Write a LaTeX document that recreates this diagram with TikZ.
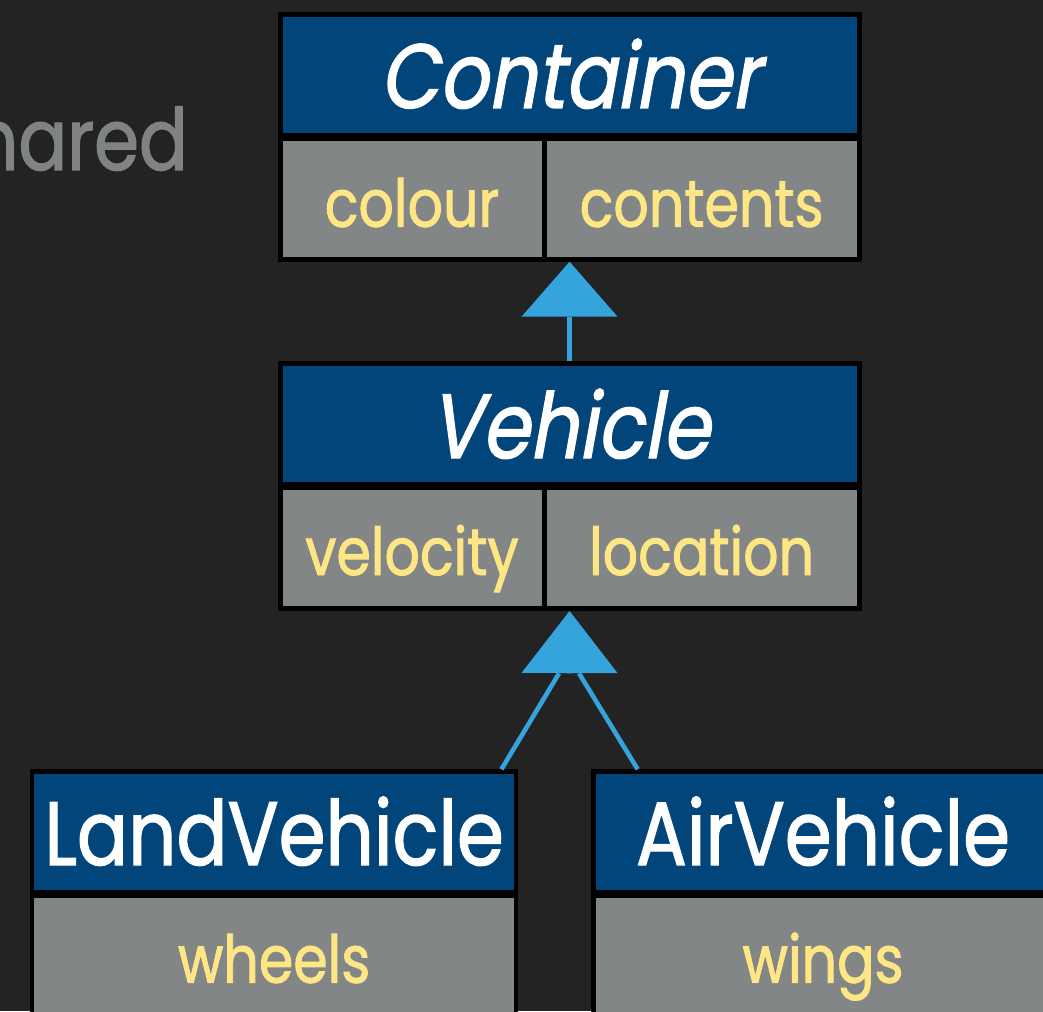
\documentclass[tikz,border=0pt]{standalone}
\usepackage{fontspec}
\setmainfont{Poppins}[FakeStretch=0.84,FakeBold=1.4]
\newfontfamily\slantfont{Poppins}[FakeStretch=0.84,FakeSlant=0.18,FakeBold=1.4]
\usetikzlibrary{arrows.meta}
\definecolor{bgc}{HTML}{232323}
\definecolor{headblue}{HTML}{02457A}
\definecolor{cellgray}{HTML}{838686}
\definecolor{attryellow}{HTML}{FFE685}
\definecolor{arrowblue}{HTML}{35A4DC}
\definecolor{fadegray}{HTML}{7F8383}
\tikzset{
  box/.style={anchor=north west, inner sep=0pt, outer sep=0pt, draw=none},
  outerbox/.style={box, fill=black},
  headcell/.style={box, fill=headblue},
  attrcell/.style={box, fill=cellgray},
  titletext/.style={anchor=base, inner sep=0pt, text=white, font=\slantfont\fontsize{91}{96}\selectfont},
  nametext/.style={anchor=base, inner sep=0pt, text=white, font=\fontsize{90}{96}\selectfont},
  attrtext/.style={anchor=base, inner sep=0pt, text=attryellow, font=\fontsize{66}{72}\selectfont},
  inh/.style={draw=arrowblue, line width=4.6pt, -{Triangle[width=96pt,length=#1,line width=0pt]}},
  conn/.style={draw=arrowblue, line width=4.6pt}
}
\begin{document}
\begin{tikzpicture}[x=1pt,y=-1pt]
\fill[bgc] (0,0) rectangle (1043,1011);
\useasboundingbox (0,0) rectangle (1043,1011);

% faded slide text
\node[anchor=base east, inner sep=0pt, text=fadegray, font=\fontsize{86}{90}\selectfont] (shared) at (188,170) {shared};

% Container
\node[outerbox, minimum width=583.9pt, minimum height=250pt] (cont) at (277.6,11.7) {};
\node[headcell, minimum width=574.1pt, minimum height=116pt] (conthead) at (282.6,16.7) {};
\node[attrcell, minimum width=258.9pt, minimum height=116pt] (contcolour) at (282.6,140.7) {};
\node[attrcell, minimum width=310.2pt, minimum height=116pt] (contcontents) at (546.5,140.7) {};
\node[titletext] (contname) at (569.7,108) {Container};
\node[attrtext] (colourtxt) at (412,226.7) {colour};
\node[attrtext] (contentstxt) at (701.6,226.7) {contents};

% Vehicle
\node[outerbox, minimum width=583.9pt, minimum height=250pt] (veh) at (277.6,361) {};
\node[headcell, minimum width=574.1pt, minimum height=115.7pt] (vehhead) at (282.6,366) {};
\node[attrcell, minimum width=258.9pt, minimum height=116pt] (vehvelocity) at (282.6,490) {};
\node[attrcell, minimum width=310.2pt, minimum height=116pt] (vehlocation) at (546.5,490) {};
\node[titletext] (vehname) at (569.7,458) {Vehicle};
\node[attrtext] (velocitytxt) at (412,575) {velocity};
\node[attrtext] (locationtxt) at (701.6,575) {location};

% LandVehicle
\node[outerbox, minimum width=487.9pt, minimum height=270pt] (land) at (29.8,769.3) {};
\node[headcell, minimum width=479.4pt, minimum height=116pt] (landhead) at (34.4,774) {};
\node[attrcell, minimum width=479.4pt, minimum height=140pt] (landwheels) at (34.4,898.3) {};
\node[nametext] (landname) at (274.1,865) {LandVehicle};
\node[attrtext] (wheelstxt) at (274.1,982.7) {wheels};

% AirVehicle
\node[outerbox, minimum width=470pt, minimum height=270pt] (air) at (590.8,769.3) {};
\node[headcell, minimum width=460pt, minimum height=116pt] (airhead) at (595.5,774) {};
\node[attrcell, minimum width=460pt, minimum height=140pt] (airwings) at (595.5,898.3) {};
\node[nametext] (airname) at (823,865) {AirVehicle};
\node[attrtext] (wingstxt) at (823,982.7) {wings};

% generalisation arrows
\draw[inh=55pt] (veh.north) -- (cont.south);
\coordinate (tapex) at (569.5,611);
\coordinate (tbase) at (569.5,673.3);
\coordinate (tbl) at (559,673.3);
\coordinate (tbr) at (579,673.3);
\coordinate (landattach) at (501.4,769.3);
\coordinate (airattach) at (637.7,769.3);
\draw[inh=62pt] (tbase) -- (veh.south);
\draw[conn] (landattach) -- (tbl);
\draw[conn] (airattach) -- (tbr);
\end{tikzpicture}
\end{document}
